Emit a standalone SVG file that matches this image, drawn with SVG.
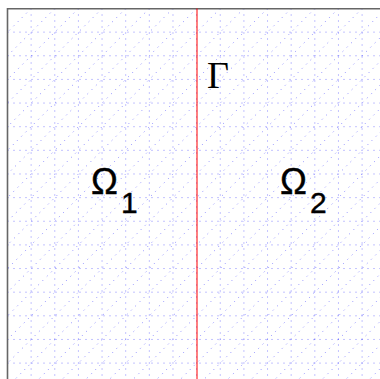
<svg xmlns="http://www.w3.org/2000/svg" width="380" height="379" viewBox="0 0 380 379">
  <defs>
    <clipPath id="dom"><rect x="7.5" y="8.5" width="373" height="371"/></clipPath>
    <style>
      .mesh { fill: none; stroke: #2a2aff; stroke-width: 0.8; stroke-dasharray: 1 5; stroke-opacity: 0.7; }
      .frame { fill: none; stroke: #666666; stroke-width: 1.6; }
      .iface { fill: none; stroke: #ff0000; stroke-width: 1; }
      .sym { font-family: "Liberation Sans", Arial, sans-serif; font-size: 36px; fill: #000000; stroke: #000000; stroke-width: 0.4; }
      .sub { font-size: 30px; }
      .gam { font-family: "Liberation Serif", "Times New Roman", serif; font-size: 38px; fill: #000000; }
    </style>
  </defs>
  <rect width="380" height="379" fill="#ffffff"/>
  <g id="mesh" clip-path="url(#dom)">
    <path class="mesh" d="M31.14 8.5V379M54.78 8.5V379M78.42 8.5V379M102.06 8.5V379M125.7 8.5V379M149.34 8.5V379M172.98 8.5V379M196.62 8.5V379M220.26 8.5V379M243.9 8.5V379M267.54 8.5V379M291.18 8.5V379M314.82 8.5V379M338.46 8.5V379M362.1 8.5V379"/>
    <path class="mesh" d="M7.5 32.14H380M7.5 55.78H380M7.5 79.42H380M7.5 103.06H380M7.5 126.7H380M7.5 150.34H380M7.5 173.98H380M7.5 197.62H380M7.5 221.26H380M7.5 244.9H380M7.5 268.54H380M7.5 292.18H380M7.5 315.82H380M7.5 339.46H380M7.5 363.1H380"/>
    <path class="mesh" d="M31.14 8.5l-750 750M54.78 8.5l-750 750M78.42 8.5l-750 750M102.06 8.5l-750 750M125.7 8.5l-750 750M149.34 8.5l-750 750M172.98 8.5l-750 750M196.62 8.5l-750 750M220.26 8.5l-750 750M243.9 8.5l-750 750M267.54 8.5l-750 750M291.18 8.5l-750 750M314.82 8.5l-750 750M338.46 8.5l-750 750M362.1 8.5l-750 750M385.74 8.5l-750 750M409.38 8.5l-750 750M433.02 8.5l-750 750M456.66 8.5l-750 750M480.3 8.5l-750 750M503.94 8.5l-750 750M527.58 8.5l-750 750M551.22 8.5l-750 750M574.86 8.5l-750 750M598.5 8.5l-750 750M622.14 8.5l-750 750M645.78 8.5l-750 750M669.42 8.5l-750 750M693.06 8.5l-750 750M716.7 8.5l-750 750M740.34 8.5l-750 750"/>
  </g>
  <g id="frame">
    <path class="frame" d="M7.5 379V8.7H380"/>
  </g>
  <g id="interface">
    <line class="iface" x1="197" y1="8.5" x2="197" y2="379"/>
  </g>
  <g id="labels">
    <text id="gamma" class="gam" x="207" y="88">Γ</text>
    <text id="omega1" class="sym" x="91" y="194">Ω<tspan class="sub" x="121" y="213">1</tspan></text>
    <text id="omega2" class="sym" x="280" y="194">Ω<tspan class="sub" x="310" y="213">2</tspan></text>
  </g>
</svg>
